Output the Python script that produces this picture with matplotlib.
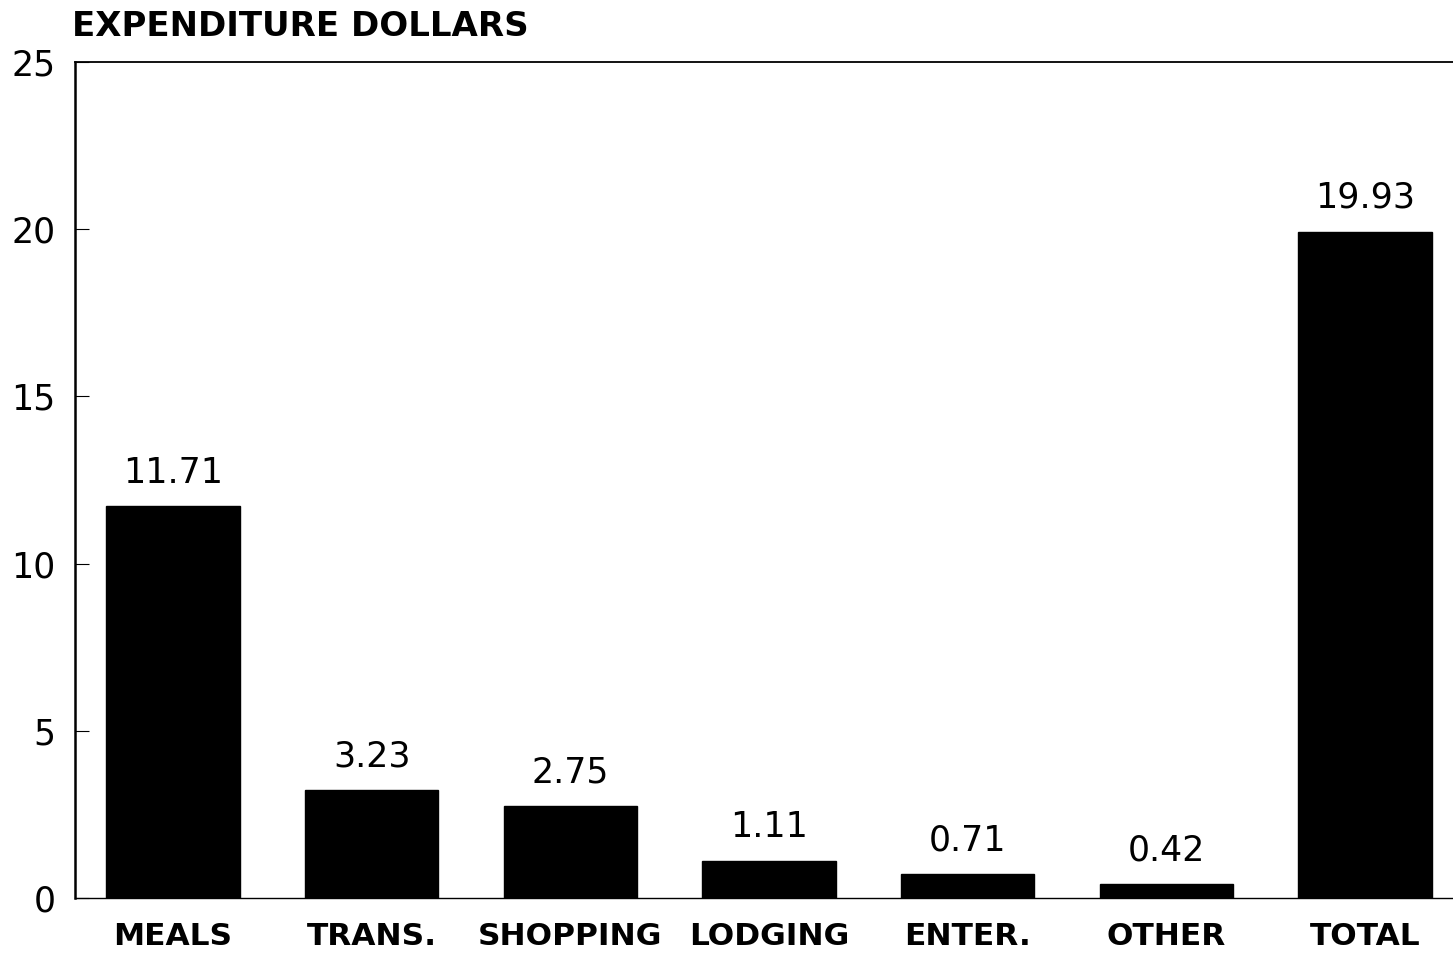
import matplotlib
matplotlib.use("Agg")
import matplotlib.pyplot as plt

categories = ["MEALS", "TRANS.", "SHOPPING", "LODGING", "ENTER.", "OTHER", "TOTAL"]
values = [11.71, 3.23, 2.75, 1.11, 0.71, 0.42, 19.93]
value_labels = ["11.71", "3.23", "2.75", "1.11", "0.71", "0.42", "19.93"]
y_ticks = [0, 5, 10, 15, 20, 25]

plt.rcParams["font.family"] = ["DejaVu Sans"]

fig = plt.figure(figsize=(14.53, 9.58), dpi=100)
ax = fig.add_axes([75 / 1453, 1 - 898 / 958, 1 - 75 / 1453, (898 - 62) / 958])

x = list(range(len(categories)))
ax.bar(x, values, width=0.67, color="black", edgecolor="black", zorder=3)

for xi, v, lab in zip(x, values, value_labels):
    ax.annotate(lab, (xi, v), xytext=(0, 12), textcoords="offset points",
                ha="center", va="bottom", fontsize=25)

ax.set_xlim(-0.493, 6.443)
ax.set_ylim(0, 25)
ax.set_yticks(y_ticks)
ax.set_yticklabels([str(t) for t in y_ticks], fontsize=25)
ax.set_xticks(x)
ax.set_xticklabels(categories, fontsize=22.5, fontweight="bold")

ax.tick_params(axis="y", direction="in", length=10, width=0.8, pad=14)
ax.tick_params(axis="x", length=0, pad=17)

for side in ["left", "top", "bottom"]:
    ax.spines[side].set_color("black")
ax.spines["left"].set_linewidth(1.8)
ax.spines["top"].set_linewidth(1.3)
ax.spines["bottom"].set_linewidth(1.0)
ax.spines["right"].set_visible(False)

fig.text(72 / 1453, 1 - 36 / 958, "EXPENDITURE DOLLARS", fontsize=24.5,
         fontweight="bold", ha="left", va="baseline")

fig.savefig("out.png", dpi=100)
